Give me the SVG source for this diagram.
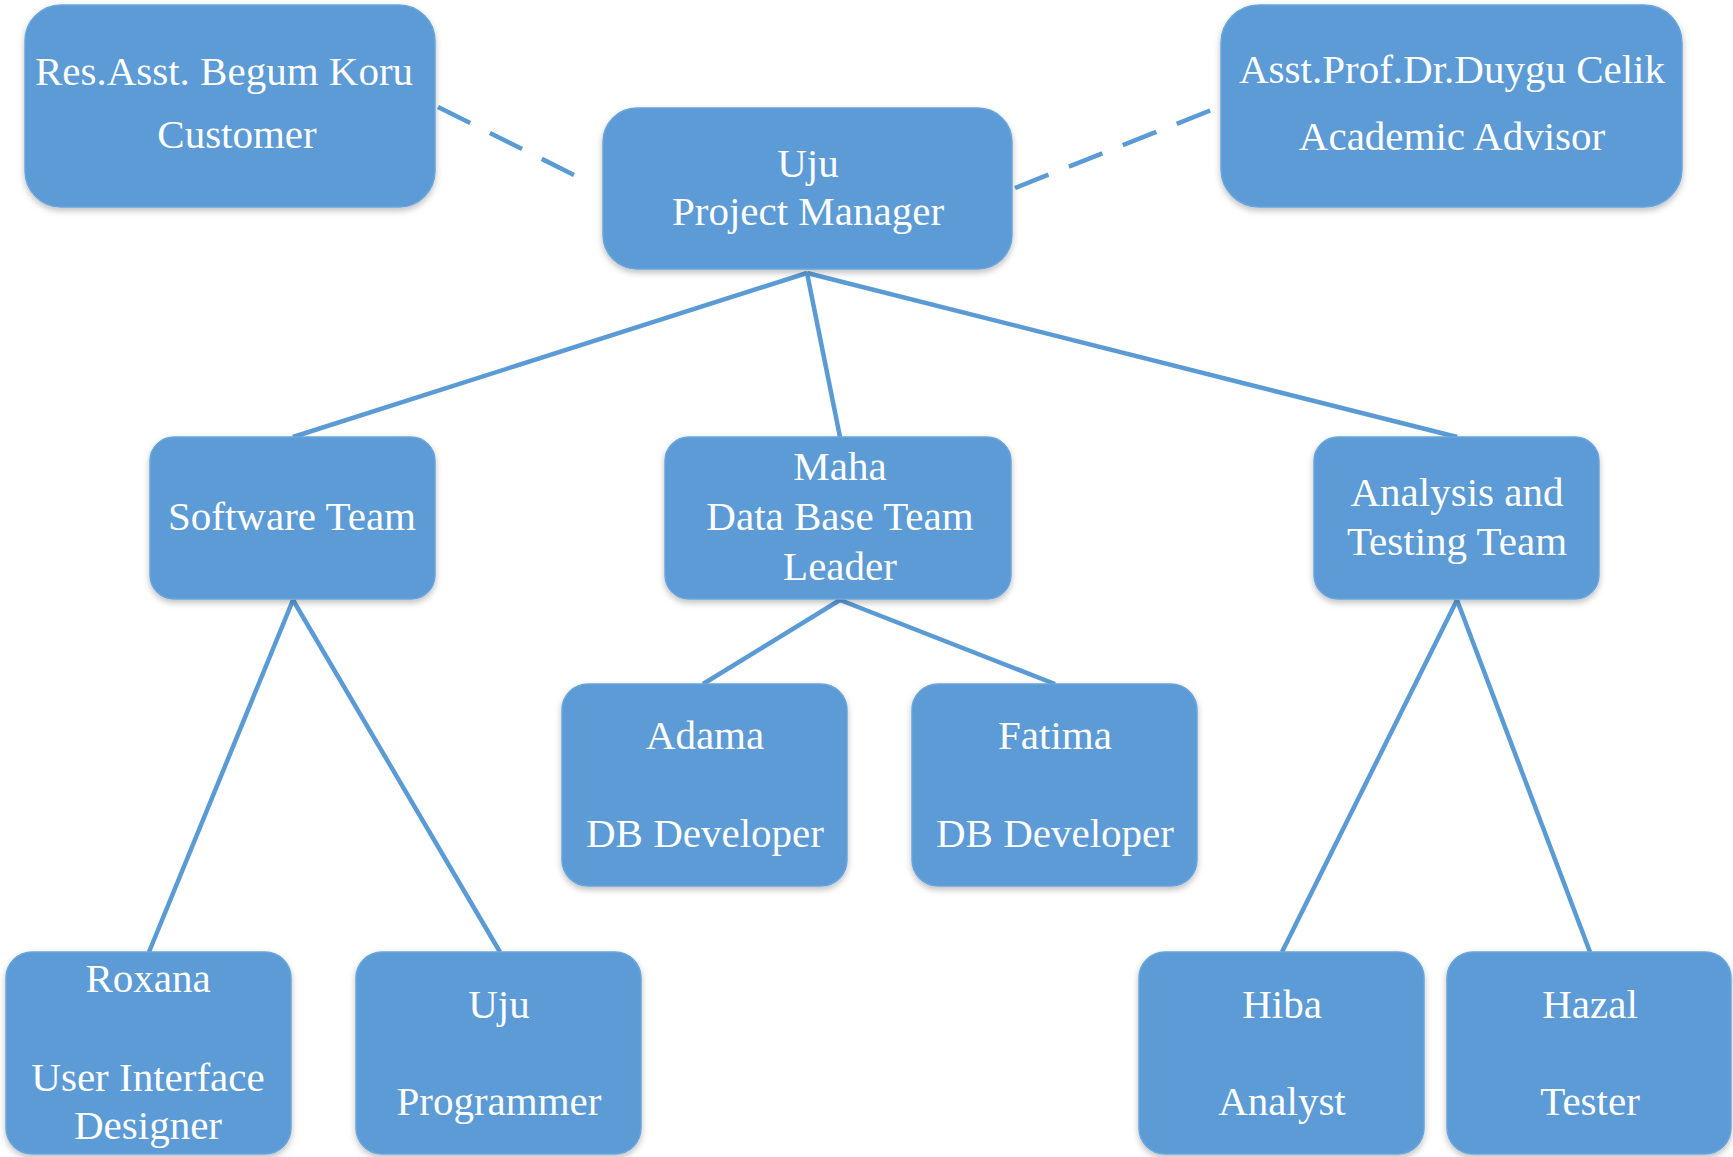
<svg xmlns="http://www.w3.org/2000/svg" width="1733" height="1157" viewBox="0 0 1733 1157">
<style>
.box{fill:#5b9bd5;stroke:#6aa5dc;stroke-width:1.5;filter:url(#sh)}
.t{font-family:"Liberation Serif","Times New Roman",serif;font-size:41px;fill:#ffffff;text-anchor:middle}
.ln{stroke:#5b9bd5;stroke-width:4.5;fill:none}
.dash{stroke-dasharray:36 22}
</style>
<defs>
<filter id="sh" x="-10%" y="-10%" width="120%" height="125%">
<feDropShadow dx="0" dy="3" stdDeviation="3" flood-color="#000" flood-opacity="0.25"/>
</filter>
</defs>
<rect width="1733" height="1157" fill="#ffffff"/>
<g id="connectors">
<line class="ln dash" x1="438" y1="107" x2="582" y2="179"/>
<line class="ln dash" x1="1015" y1="188" x2="1219" y2="107"/>
<line class="ln" x1="807" y1="273" x2="293" y2="437"/>
<line class="ln" x1="807" y1="273" x2="840" y2="437"/>
<line class="ln" x1="807" y1="273" x2="1457" y2="437"/>
<line class="ln" x1="293" y1="600" x2="149" y2="952"/>
<line class="ln" x1="293" y1="600" x2="500" y2="952"/>
<line class="ln" x1="840" y1="600" x2="703" y2="684"/>
<line class="ln" x1="840" y1="600" x2="1055" y2="684"/>
<line class="ln" x1="1457" y1="600" x2="1282" y2="952"/>
<line class="ln" x1="1457" y1="600" x2="1590" y2="952"/>
</g>
<g id="customer">
<rect class="box" x="25" y="5" width="410" height="202" rx="36"/>
<text class="t" x="224" y="85">Res.Asst. Begum Koru</text>
<text class="t" x="237" y="148">Customer</text>
</g>
<g id="pm">
<rect class="box" x="603" y="108" width="409" height="161" rx="34"/>
<text class="t" x="808" y="177">Uju</text>
<text class="t" x="808" y="225">Project Manager</text>
</g>
<g id="advisor">
<rect class="box" x="1221" y="5" width="461" height="202" rx="38"/>
<text class="t" x="1452" y="83">Asst.Prof.Dr.Duygu Celik</text>
<text class="t" x="1452" y="150">Academic Advisor</text>
</g>
<g id="software">
<rect class="box" x="150" y="437" width="285" height="162" rx="24"/>
<text class="t" x="292" y="530">Software Team</text>
</g>
<g id="maha">
<rect class="box" x="665" y="437" width="346" height="162" rx="24"/>
<text class="t" x="840" y="480">Maha</text>
<text class="t" x="840" y="530">Data Base Team</text>
<text class="t" x="840" y="580">Leader</text>
</g>
<g id="analysis">
<rect class="box" x="1314" y="437" width="285" height="162" rx="24"/>
<text class="t" x="1457" y="506">Analysis and</text>
<text class="t" x="1457" y="555">Testing Team</text>
</g>
<g id="adama">
<rect class="box" x="562" y="684" width="285" height="202" rx="26"/>
<text class="t" x="705" y="749">Adama</text>
<text class="t" x="705" y="847">DB Developer</text>
</g>
<g id="fatima">
<rect class="box" x="912" y="684" width="285" height="202" rx="26"/>
<text class="t" x="1055" y="749">Fatima</text>
<text class="t" x="1055" y="847">DB Developer</text>
</g>
<g id="roxana">
<rect class="box" x="6" y="952" width="285" height="202" rx="26"/>
<text class="t" x="148" y="992">Roxana</text>
<text class="t" x="148" y="1091">User Interface</text>
<text class="t" x="148" y="1139">Designer</text>
</g>
<g id="programmer">
<rect class="box" x="356" y="952" width="285" height="202" rx="26"/>
<text class="t" x="499" y="1018">Uju</text>
<text class="t" x="499" y="1115">Programmer</text>
</g>
<g id="hiba">
<rect class="box" x="1139" y="952" width="285" height="202" rx="26"/>
<text class="t" x="1282" y="1018">Hiba</text>
<text class="t" x="1282" y="1115">Analyst</text>
</g>
<g id="hazal">
<rect class="box" x="1447" y="952" width="284" height="202" rx="26"/>
<text class="t" x="1590" y="1018">Hazal</text>
<text class="t" x="1590" y="1115">Tester</text>
</g>
</svg>
